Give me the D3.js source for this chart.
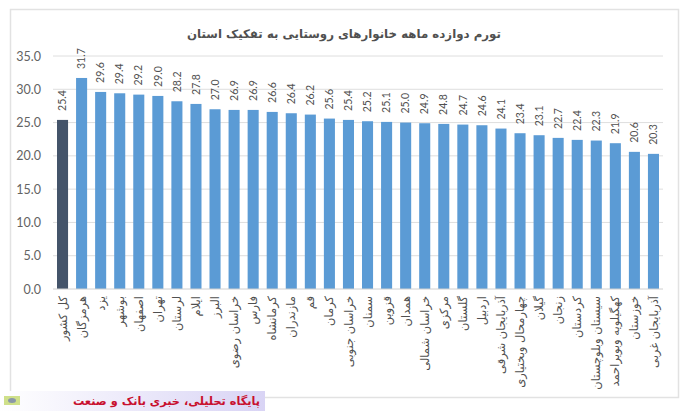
<!DOCTYPE html>
<html lang="fa">
<head>
<meta charset="utf-8">
<script src="https://cdn.jsdelivr.net/npm/d3@7"></script>
<style>
  html, body { margin: 0; padding: 0; background: #fff; }
  svg { display: block; }
  text { font-family: Lato, "Open Sans", sans-serif; }
  .fa { font-family: "DejaVu Sans", "Noto Sans", sans-serif; }
</style>
</head>
<body>
<svg id="chart"></svg>
<script>
/* Data */
const provinces = ["کل کشور", "هرمزگان", "یزد", "بوشهر", "اصفهان", "تهران", "لرستان", "ایلام",
  "البرز", "خراسان رضوی", "فارس", "کرمانشاه", "مازندران", "قم", "کرمان", "خراسان جنوبی",
  "سمنان", "قزوین", "همدان", "خراسان شمالی", "مرکزی", "گلستان", "اردبیل", "آذربایجان شرقی",
  "چهارمحال وبختیاری", "گیلان", "زنجان", "کردستان", "سیستان وبلوچستان", "کهگیلویه وبویراحمد",
  "خوزستان", "آذربایجان غربی"];
const inflation = [25.4, 31.7, 29.6, 29.4, 29.2, 29.0, 28.2, 27.8, 27.0, 26.9, 26.9, 26.6, 26.4, 26.2, 25.6, 25.4,
  25.2, 25.1, 25.0, 24.9, 24.8, 24.7, 24.6, 24.1, 23.4, 23.1, 22.7, 22.4, 22.3, 21.9, 20.6, 20.3];
const yTicks = [0, 5, 10, 15, 20, 25, 30, 35];
const chartTitle = "تورم دوازده ماهه خانوارهای روستایی به تفکیک استان";
const bannerText = "پایگاه تحلیلی، خبری بانک و صنعت";

const rows = provinces.map((name, i) => ({ name, value: inflation[i] }));

/* Dimensions */
const width = 700, height = 411;
const margin = { top: 56, right: 37, bottom: 122, left: 53 };

const svg = d3.select("#chart").attr("width", width).attr("height", height);

/* Frame */
svg.append("rect")
    .attr("x", 10.5).attr("y", 9.5)
    .attr("width", 668).attr("height", 388)
    .attr("fill", "#fff").attr("stroke", "#e2e2e2").attr("stroke-width", 1.5);

/* Scales */
const x = d3.scaleBand().domain(provinces)
    .range([margin.left, width - margin.right]).paddingInner(0.42).paddingOuter(0.21);
const y = d3.scaleLinear().domain([0, 35])
    .range([height - margin.bottom, margin.top]);

/* Gridlines */
svg.append("g").selectAll("line")
    .data(yTicks.filter(d => d > 0))
    .join("line")
      .attr("x1", margin.left).attr("x2", width - margin.right)
      .attr("y1", d => y(d)).attr("y2", d => y(d))
      .attr("stroke", "#dedede").attr("stroke-width", 1);

/* Y axis */
const yAxis = d3.axisLeft(y).tickValues(yTicks).tickFormat(d3.format(".1f")).tickSize(0).tickPadding(12);
const yG = svg.append("g").attr("transform", `translate(${margin.left},0)`).call(yAxis);
yG.select(".domain").remove();
yG.selectAll("text").attr("font-size", 12.5).attr("fill", "#636363").style("font-family", "Lato, sans-serif");

/* Bars */
svg.append("g").selectAll("rect")
    .data(rows)
    .join("rect")
      .attr("x", d => x(d.name))
      .attr("y", d => y(d.value))
      .attr("width", x.bandwidth())
      .attr("height", d => y(0) - y(d.value))
      .attr("fill", (d, i) => i === 0 ? "#44546a" : "#5b9bd5");

/* Baseline */
svg.append("line")
    .attr("x1", margin.left).attr("x2", width - margin.right)
    .attr("y1", y(0)).attr("y2", y(0))
    .attr("stroke", "#d0d0d0");

/* Value labels */
svg.append("g").selectAll("text")
    .data(rows)
    .join("text")
      .attr("transform", d => `translate(${x(d.name) + x.bandwidth() / 2},${y(d.value) - 9}) rotate(-90)`)
      .attr("dy", "0.35em")
      .attr("font-size", 10.5)
      .attr("fill", "#505050")
      .text(d => d.value.toFixed(1));

/* Category labels */
svg.append("g").selectAll("text")
    .data(rows)
    .join("text")
      .attr("class", "fa")
      .attr("transform", d => `translate(${x(d.name) + x.bandwidth() / 2},${y(0) + 7}) rotate(-90)`)
      .attr("direction", "rtl")
      .attr("text-anchor", "start")
      .attr("dy", "0.35em")
      .attr("font-size", 11.5)
      .attr("fill", "#505050")
      .text(d => d.name);

/* Title */
svg.append("text")
    .attr("class", "fa")
    .attr("x", 344).attr("y", 38)
    .attr("text-anchor", "middle")
    .attr("direction", "rtl")
    .attr("font-size", 11.8)
    .attr("font-weight", "bold")
    .attr("fill", "#505050")
    .text(chartTitle);

/* Bottom banner */
const grad = svg.append("defs").append("linearGradient").attr("id", "bannerFill");
grad.append("stop").attr("offset", "0%").attr("stop-color", "#ffffff");
grad.append("stop").attr("offset", "100%").attr("stop-color", "#d9d4f5");

svg.append("rect")
    .attr("x", 0).attr("y", 391)
    .attr("width", 265).attr("height", 20)
    .attr("fill", "url(#bannerFill)");

svg.append("rect")
    .attr("x", 4).attr("y", 396)
    .attr("width", 16).attr("height", 9)
    .attr("fill", "#cfe08a");
svg.append("ellipse")
    .attr("cx", 12).attr("cy", 400.5)
    .attr("rx", 4).attr("ry", 2.5)
    .attr("fill", "#8a97a8");

svg.append("text")
    .attr("class", "fa")
    .attr("x", 260).attr("y", 405)
    .attr("direction", "rtl")
    .attr("text-anchor", "start")
    .attr("font-size", 11.3)
    .attr("font-weight", "bold")
    .attr("fill", "#c8102e")
    .text(bannerText);
</script>
</body>
</html>
